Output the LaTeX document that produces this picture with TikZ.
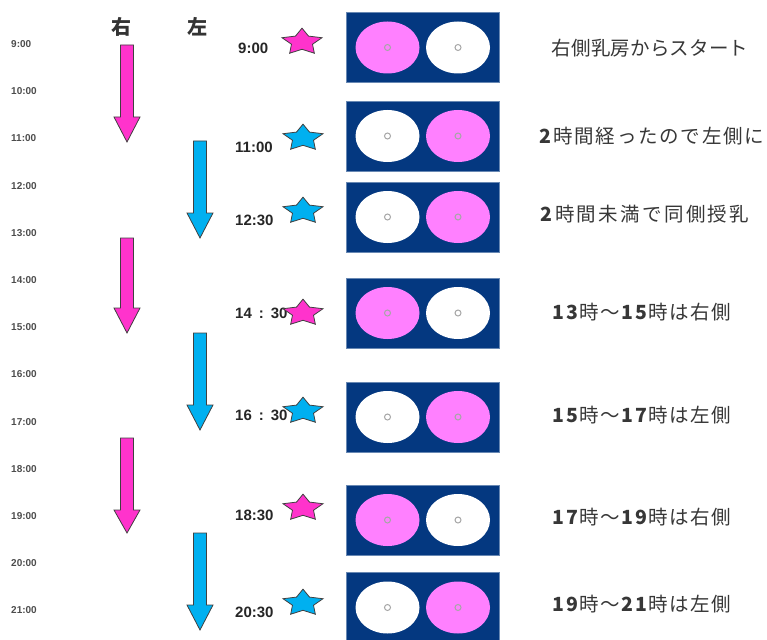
\documentclass[tikz,border=0pt]{standalone}
\usepackage{fontspec}
\setmainfont{Liberation Sans}
\newfontfamily\jp{Noto Sans CJK JP}
\usetikzlibrary{shapes.geometric}
\definecolor{navy}{RGB}{4,56,128}
\definecolor{lpink}{RGB}{255,128,255}
\definecolor{mag}{RGB}{255,51,204}
\definecolor{sky}{RGB}{0,176,240}
\definecolor{txt}{RGB}{55,55,55}
\newcommand\fatarrow[5]{%
  \draw[#5] (#1-6.5,#2) -- (#1+6.5,#2) -- (#1+6.5,#3) -- (#1+13,#3) -- (#1,#4)
    -- (#1-13,#3) -- (#1-6.5,#3) -- cycle;}
\newcommand\starat[4]{%
  \begin{scope}[shift={(#2,#3)}]
    \node[#4,yscale=0.66,transform shape] (#1) at (0,0) {};
  \end{scope}}
\tikzset{
  hourlbl/.style={anchor=west,font=\fontsize{10}{10}\selectfont\bfseries,text=black!70,inner sep=0},
  timelbl/.style={anchor=west,font=\fontsize{15}{15}\selectfont\bfseries,text=black!85,inner sep=0},
  sidelbl/.style={font=\jp\fontsize{20}{20}\selectfont\bfseries,text=black!80,inner sep=0},
  note/.style={font=\jp\fontsize{19.5}{19.5}\selectfont,text=txt,inner sep=0},
  pinkarrow/.style={fill=mag,draw=black!75,line width=0.8pt},
  bluearrow/.style={fill=sky,draw=black!75,line width=0.8pt},
  starbase/.style={star,star points=5,star point ratio=1.9,minimum size=42,inner sep=0,draw=black!75,line width=0.8pt},
  pstar/.style={starbase,fill=mag},
  bstar/.style={starbase,fill=sky},
  breastbox/.style={rectangle,fill=navy,draw=navy!60!white,line width=0.6pt,minimum width=153,minimum height=70,inner sep=0},
  pinkbreast/.style={ellipse,fill=lpink,minimum width=64,minimum height=52,inner sep=0},
  whitebreast/.style={ellipse,fill=white,minimum width=64,minimum height=52,inner sep=0},
  nipple/.style={circle,draw=black!35,line width=1pt,minimum size=6,inner sep=0},
}
\begin{document}
\begin{tikzpicture}[x=1pt,y=-1pt]
\useasboundingbox (0,0) rectangle (767,639);
% hour scale
\foreach \h [count=\k from 0] in {9,...,21}{
  \node[hourlbl] (h\h) at (11,44+47.2*\k) {\h:00};
}
\node[sidelbl] (migi) at (121,27) {右};
\node[sidelbl] (hidari) at (197,27) {左};
% arrows
\fatarrow{127}{45}{117}{142}{pinkarrow}
\fatarrow{200}{141}{213}{238}{bluearrow}
\fatarrow{127}{238}{308}{333}{pinkarrow}
\fatarrow{200}{333}{405}{430}{bluearrow}
\fatarrow{127}{438}{510}{533}{pinkarrow}
\fatarrow{200}{533}{605}{630}{bluearrow}
% time labels and stars
\node[timelbl] (t1) at (238,48) {9:00};
\node[timelbl] (t2) at (235,147) {11:00};
\node[timelbl] (t3) at (235,220) {12:30};
\node[timelbl] (t4) at (235,313) {14\hspace{7pt}:\hspace{7pt}30};
\node[timelbl] (t5) at (235,415) {16\hspace{7pt}:\hspace{7pt}30};
\node[timelbl] (t6) at (235,515) {18:30};
\node[timelbl] (t7) at (235,612) {20:30};
\starat{s1}{302}{42}{pstar}
\starat{s2}{303}{138}{bstar}
\starat{s3}{303}{211}{bstar}
\starat{s4}{303}{313}{pstar}
\starat{s5}{303}{411}{bstar}
\starat{s6}{303}{508}{pstar}
\starat{s7}{303}{603}{bstar}
% boxes
\foreach \i/\y/\l/\r in {1/47.5/pinkbreast/whitebreast,2/136/whitebreast/pinkbreast,3/217/whitebreast/pinkbreast,4/313/pinkbreast/whitebreast,5/417/whitebreast/pinkbreast,6/520/pinkbreast/whitebreast,7/607.5/whitebreast/pinkbreast}{
  \node[breastbox] (b\i) at (423,\y) {};
  \node[\l] (bl\i) at (387.5,\y) {};
  \node[\r] (br\i) at (458,\y) {};
  \node[nipple] (nl\i) at (bl\i.center) {};
  \node[nipple] (nr\i) at (br\i.center) {};
}
% notes
\node[note] (n1) at (650,48) {\addfontfeature{LetterSpace=1}右側乳房からスタート};
\node[note] (n2) at (652,136) {\addfontfeature{LetterSpace=9}\textbf{2}時間経ったので左側に};
\node[note] (n3) at (645,214) {\addfontfeature{LetterSpace=12}\textbf{2}時間未満で同側授乳};
\node[note] (n4) at (642,312) {\addfontfeature{LetterSpace=8}\textbf{13}時～\textbf{15}時は右側};
\node[note] (n5) at (642,415) {\addfontfeature{LetterSpace=8}\textbf{15}時～\textbf{17}時は左側};
\node[note] (n6) at (642,517) {\addfontfeature{LetterSpace=8}\textbf{17}時～\textbf{19}時は右側};
\node[note] (n7) at (642,604) {\addfontfeature{LetterSpace=8}\textbf{19}時～\textbf{21}時は左側};
\end{tikzpicture}
\end{document}
